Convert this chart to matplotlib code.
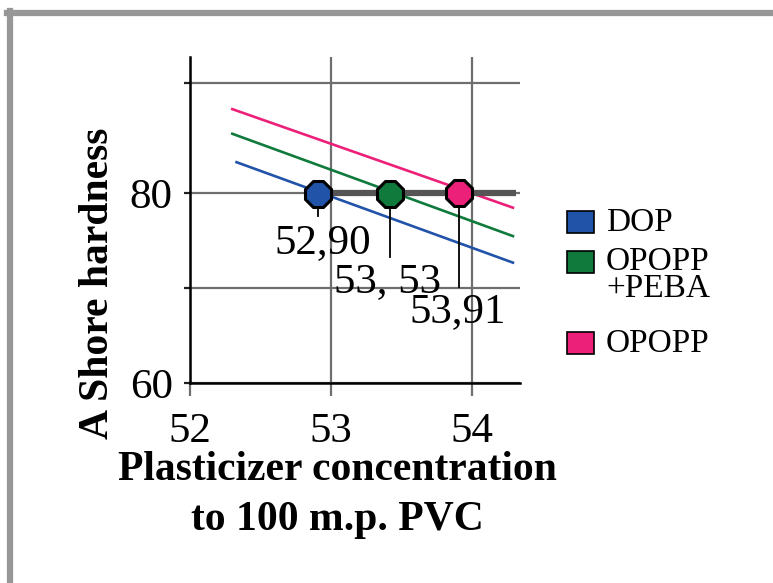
import matplotlib
matplotlib.use("Agg")
import matplotlib.pyplot as plt
from matplotlib.lines import Line2D
from matplotlib.patches import Rectangle

plt.rcParams['font.family'] = ['Liberation Serif', 'DejaVu Serif']

# data
series = ["DOP", "OPOPP\n+PEBA", "OPOPP"]
colors = ["#2153a8", "#0f7a3c", "#ec2079"]
line_x = [[52.33, 54.29], [52.30, 54.29], [52.30, 54.29]]
line_y = [[83.3, 72.7], [86.3, 75.5], [88.9, 78.5]]
point_x = [52.91, 53.42, 53.91]
point_y = [79.9, 79.9, 80.1]
drop_y = [77.6, 73.3, 70.1]
point_labels = ["52,90", "53, 53", "53,91"]
label_x = [52.94, 53.40, 53.90]
label_y = [74.8, 70.7, 67.5]
level = 80.1

W, H = 773, 583
fig = plt.figure(figsize=(W / 100, H / 100), dpi=100)
ax = fig.add_axes([190 / W, 1 - 383 / H, 330 / W, 326 / H])
ax.set_xlim(52, 54.34)
ax.set_ylim(60, 94.4)

ax.set_xticks([52, 53, 54])
ax.set_xticklabels(["52", "53", "54"])
ax.set_yticks([60, 70, 80, 91.7])
ax.set_yticklabels(["60", "", "80", ""])
ax.grid(True, color="#6e6e6e", lw=1.6)
ax.set_axisbelow(True)
for s in ["top", "right"]:
    ax.spines[s].set_visible(False)
for s in ["left", "bottom"]:
    ax.spines[s].set_linewidth(1.8)
ax.tick_params(axis="x", length=9, width=1.6, color="#6e6e6e", pad=12, labelsize=31)
ax.tick_params(axis="y", length=4.5, width=1.6, color="#222222", pad=8, labelsize=31)

for i in range(len(series)):
    ax.plot(line_x[i], line_y[i], color=colors[i], lw=1.9, zorder=3)

ax.plot([point_x[0], 54.31], [level, level], color="#555555", lw=4.5, zorder=4,
        solid_capstyle="butt")

for i in range(len(series)):
    ax.plot([point_x[i], point_x[i]], [point_y[i], drop_y[i]], color="black", lw=1.3, zorder=5)
    ax.plot(point_x[i], point_y[i], marker="8", ms=20.5, mfc=colors[i], mec="black",
            mew=2.2, zorder=6, clip_on=False)
    ax.text(label_x[i], label_y[i], point_labels[i], fontsize=31, ha="center",
            va="center", zorder=7)

# legend drawn by hand
leg_y = [222, 262, 343]
for i in range(len(series)):
    y = leg_y[i]
    fig.add_artist(Rectangle((567 / W, 1 - (y + 11) / H), 27 / W, 22 / H,
                             facecolor=colors[i], edgecolor="black", lw=1.2,
                             transform=fig.transFigure))
    fig.text(606 / W, 1 - (y - 15) / H, series[i], fontsize=24, ha="left", va="top",
             linespacing=0.85)

fig.text(337 / W, 1 - 470 / H, "Plasticizer concentration", fontsize=30,
         fontweight="bold", ha="center", va="center")
fig.text(337 / W, 1 - 520 / H, "to 100 m.p. PVC", fontsize=30,
         fontweight="bold", ha="center", va="center")
fig.text(98 / W, 1 - 283 / H, "A Shore hardness", fontsize=30, fontweight="bold",
         rotation=90, ha="center", va="center")

# grey frame at top and left
fig.add_artist(Line2D([7 / W, 1], [1 - 13 / H, 1 - 13 / H], color="#979797", lw=4.5,
                      transform=fig.transFigure))
fig.add_artist(Line2D([10 / W, 10 / W], [0, 1 - 11 / H], color="#979797", lw=4.5,
                      transform=fig.transFigure))

fig.savefig("out.png", dpi=100)
